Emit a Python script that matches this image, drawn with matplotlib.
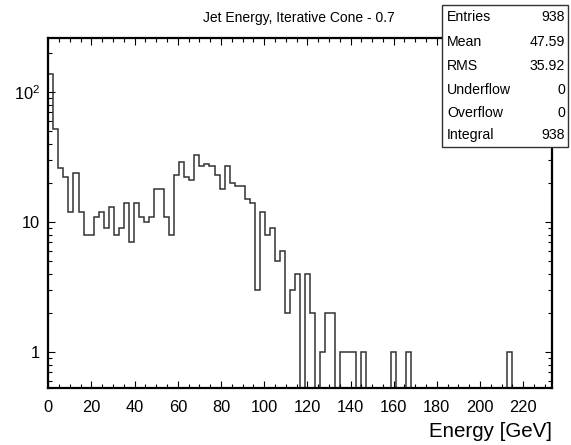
import numpy as np
import matplotlib.pyplot as plt
from matplotlib import font_manager
from matplotlib.ticker import FixedLocator, NullFormatter, MultipleLocator

plt.rcParams['font.family'] = ['Liberation Sans', 'DejaVu Sans']
plt.rcParams['mathtext.fontset'] = 'custom'
plt.rcParams['mathtext.rm'] = 'Liberation Sans'
plt.rcParams['mathtext.it'] = 'Liberation Sans'

# Histograma: 100 bins entre 0 y 233.33 GeV
n_bins = 100
x_max = 233.33
counts = [137, 52, 26, 22, 12, 24, 12, 8, 8, 11,
          12, 9, 13, 8, 9, 14, 7, 14, 11, 10,
          11, 18, 18, 11, 8, 23, 29, 22, 21, 33,
          27, 28, 27, 23, 18, 27, 20, 19, 19, 15,
          14, 3, 12, 8, 9, 5, 6, 2, 3, 4,
          0, 4, 2, 0, 1, 2, 2, 0, 1, 1,
          1, 0, 1, 0, 0, 0, 0, 0, 1, 0,
          0, 1, 0, 0, 0, 0, 0, 0, 0, 0,
          0, 0, 0, 0, 0, 0, 0, 0, 0, 0,
          0, 1, 0, 0, 0, 0, 0, 0, 0, 0]

title = "Jet Energy, Iterative Cone - 0.7"
stat_names = ["Entries", "Mean", "RMS", "Underflow", "Overflow", "Integral"]
stat_values = ["938", "47.59", "35.92", "0", "0", "938"]

edges = np.linspace(0, x_max, n_bins + 1)
c = np.array(counts, dtype=float)
c_plot = np.where(c > 0, c, 1e-3)

fig = plt.figure(figsize=(5.71, 4.45), dpi=100)
ax = fig.add_axes([48.3/571, 1 - 388/445, (552 - 48.3)/571, (388 - 38)/445])

ax.stairs(c_plot, edges, baseline=None, color='#333333', lw=1.1)
ax.set_yscale('log')
ax.set_xlim(0, x_max)
ax.set_ylim(0.528, 260)

# Ejes estilo ROOT
for s in ax.spines.values():
    s.set_linewidth(1.6)
ax.xaxis.set_major_locator(MultipleLocator(20))
ax.xaxis.set_minor_locator(MultipleLocator(5))
ax.yaxis.set_major_locator(FixedLocator([1, 10, 100]))
ax.set_yticklabels(['1', '10', r'$10^{2}$'])
ax.yaxis.set_minor_locator(FixedLocator([k * 10**e for e in range(-1, 3) for k in range(2, 10)]))
ax.yaxis.set_minor_formatter(NullFormatter())
ax.tick_params(which='both', direction='in', top=True, right=True, labelsize=11.8, width=0.8)
ax.tick_params(which='major', length=5)
ax.tick_params(which='minor', length=3)
ax.tick_params(axis='x', pad=9)
ax.tick_params(axis='y', pad=6)

ax.set_xlabel('Energy [GeV]', fontsize=14.8, loc='right', labelpad=5)

# Título: fuente estrecha si existe
nombres = {f.name for f in font_manager.fontManager.ttflist}
if 'Liberation Sans Narrow' in nombres:
    fig.text(299/571, 1 - 18/445, title, ha='center', va='center', fontsize=11.5,
             family=['Liberation Sans Narrow', 'DejaVu Sans'])
else:
    fig.text(299/571, 1 - 18/445, title, ha='center', va='center', fontsize=10)

# Caja de estadísticas
bx0, by0, bx1, by1 = 442/571, 1 - 147/445, 568/571, 1 - 5/445
rect = plt.Rectangle((bx0, by0), bx1 - bx0, by1 - by0, transform=fig.transFigure,
                     facecolor='white', edgecolor='#333333', lw=1.0, zorder=5)
fig.add_artist(rect)
rows_y = [17, 42, 66, 90, 113, 135]
for name, val, yy in zip(stat_names, stat_values, rows_y):
    fig.text(447/571, 1 - yy/445, name, ha='left', va='center', fontsize=10.2, zorder=6)
    fig.text(565/571, 1 - yy/445, val, ha='right', va='center', fontsize=10.2, zorder=6)

plt.savefig('out.png', dpi=100)
